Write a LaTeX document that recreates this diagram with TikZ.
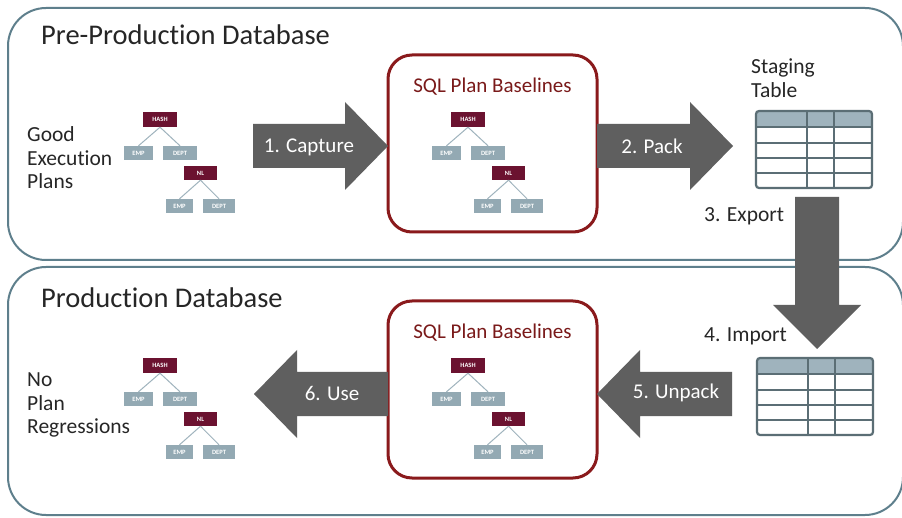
\documentclass[tikz,border=0pt]{standalone}
\usepackage{fontspec}
\setmainfont{Carlito}[Ligatures=NoCommon]
\definecolor{panelc}{HTML}{5E7F8C}
\definecolor{maroon}{HTML}{6B1230}
\definecolor{planred}{HTML}{8A1A1C}
\definecolor{plantxt}{HTML}{7A1A1A}
\definecolor{arrowc}{HTML}{5F5F5F}
\definecolor{leafc}{HTML}{93A9B3}
\definecolor{tlinec}{HTML}{9FB3BD}
\definecolor{thead}{HTML}{9FB3BD}
\definecolor{tborder}{HTML}{5B6E75}
\definecolor{txtc}{HTML}{262626}
\begin{document}
\begin{tikzpicture}[x=1pt,y=-1pt,
  panel/.style={draw=panelc,line width=2pt,rounded corners=38pt},
  planbox/.style={draw=planred,line width=3pt,rounded corners=24pt,fill=white},
  bigarrow/.style={fill=arrowc,draw=none},
  arrowlbl/.style={text=white,font=\fontsize{21}{24}\selectfont,inner sep=0pt},
  lbl/.style={text=txtc,font=\fontsize{21.5}{23.5}\selectfont,align=left,inner sep=0pt,anchor=west},
  titlelbl/.style={text=txtc,font=\fontsize{28.5}{32}\selectfont,inner sep=0pt,anchor=west},
  opnode/.style={fill=maroon,text=white,font=\fontsize{6.5}{7}\selectfont\bfseries,inner sep=0pt,minimum height=15pt},
  leafnode/.style={fill=leafc,text=white,font=\fontsize{6.5}{7}\selectfont\bfseries,inner sep=0pt,minimum height=14pt},
  tline/.style={draw=tlinec,line width=1pt},
  plantree/.pic={
    \node[opnode,minimum width=34pt] (-hash) at (17,7.5) {HASH};
    \node[leafnode,minimum width=29pt] (-emp) at (-4.5,41) {EMP};
    \node[leafnode,minimum width=34pt] (-dept) at (37,41) {DEPT};
    \node[opnode,minimum width=33pt,minimum height=14pt] (-nl) at (57.5,61) {NL};
    \node[leafnode,minimum width=27pt] (-emp2) at (36.5,94) {EMP};
    \node[leafnode,minimum width=32pt] (-dept2) at (76,94) {DEPT};
    \draw[tline] (-hash.south) -- (-emp.north);
    \draw[tline] (-hash.south) -- (-dept.north);
    \draw[tline] (-nl.south) -- (-emp2.north);
    \draw[tline] (-nl.south) -- (-dept2.north);
  },
  stagetable/.pic={
    \fill[thead,rounded corners=3pt] (0,0) rectangle (116,16);
    \draw[tborder,line width=1.8pt] (0,16) -- (116,16);
    \draw[tborder,line width=1.2pt] (0,32) -- (116,32) (0,47) -- (116,47) (0,62) -- (116,62);
    \draw[tborder,line width=1.8pt] (51,0) -- (51,77) (78,0) -- (78,77);
    \draw[tborder,line width=2.2pt,rounded corners=3pt] (0,0) rectangle (116,77);
  }
]
\useasboundingbox (0,0) rectangle (902,518);
\fill[white] (0,0) rectangle (902,518);
\begin{scope}
\clip (0,0) rectangle (902,518);
\draw[panel] (8,8) rectangle (903,260);
\draw[panel] (8,267) rectangle (903,515);
\end{scope}

% titles
\node[titlelbl] (t1) at (41,35) {Pre-Produc\kern0pt tion Database};
\node[titlelbl] (t2) at (41,298) {Produc\kern0pt tion Database};

% left labels
\node[lbl] (good) at (27,158) {Good\\Execu\kern0pt tion\\Plans};
\node[lbl] (noreg) at (27,405) {No\\Plan\\Regressions};

% plan baseline boxes
\node[planbox,minimum width=209pt,minimum height=177pt] (pb1) at (492.5,143.5) {};
\node[planbox,minimum width=209pt,minimum height=177pt] (pb2) at (492.5,389.5) {};
\node[text=plantxt,font=\fontsize{21}{23}\selectfont,inner sep=0pt] (pb1t) at (492.5,87) {SQL Plan Baselines};
\node[text=plantxt,font=\fontsize{21}{23}\selectfont,inner sep=0pt] (pb2t) at (492.5,333) {SQL Plan Baselines};

% trees
\pic (tr1) at (143,112) {plantree};
\pic (tr2) at (451,112) {plantree};
\pic (tr3) at (143,358) {plantree};
\pic (tr4) at (451,358) {plantree};

% big arrows
\fill[bigarrow] (253,124) -- (345,124) -- (345,102) -- (388,146) -- (345,190) -- (345,168) -- (253,168) -- cycle;
\fill[bigarrow] (597,124) -- (690,124) -- (690,102) -- (733,146) -- (690,190) -- (690,168) -- (597,168) -- cycle;
\fill[bigarrow] (795,197) -- (839,197) -- (839,305) -- (861,305) -- (817,349) -- (773,305) -- (795,305) -- cycle;
\fill[bigarrow] (732,372) -- (640,372) -- (640,350) -- (597,394) -- (640,438) -- (640,416) -- (732,416) -- cycle;
\fill[bigarrow] (388,372) -- (297,372) -- (297,350) -- (254,394) -- (297,438) -- (297,416) -- (388,416) -- cycle;

\node[arrowlbl] (a1) at (309,147) {1. Capture};
\node[arrowlbl] (a2) at (652,146) {2. Pack};
\node[arrowlbl] (a5) at (676,393) {5. Unpack};
\node[arrowlbl] (a6) at (332,393) {6. Use};

\node[lbl] (a3) at (704,216) {3. Export};
\node[lbl] (a4) at (704,336) {4. Import};

% staging tables
\node[lbl] (stg) at (751,78) {Staging\\Table};
\pic (tab1) at (756,111) {stagetable};
\pic (tab2) at (757,358) {stagetable};
\end{tikzpicture}
\end{document}
